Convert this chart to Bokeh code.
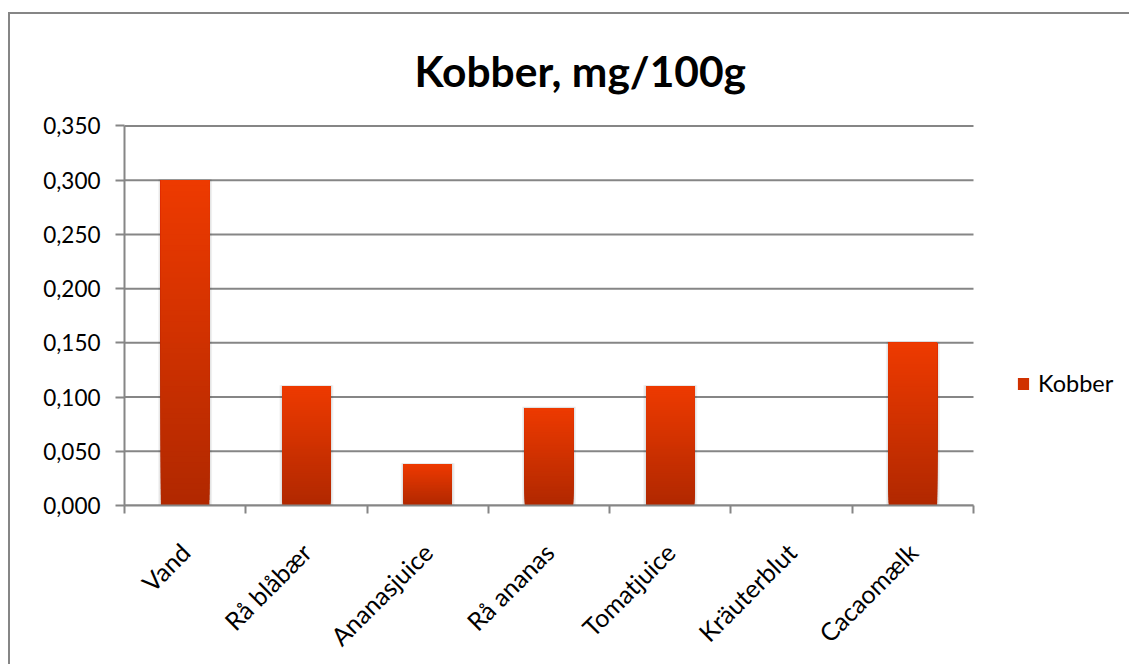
import numpy as np
from bokeh.plotting import figure
from bokeh.models import (FixedTicker, CustomJSTickFormatter, Legend, LegendItem,
                          ColumnDataSource, Range1d, Title)
from bokeh.embed import file_html
from bokeh.resources import INLINE

# --- data -------------------------------------------------------------
categories = ["Vand", "Rå blåbær", "Ananasjuice", "Rå ananas",
              "Tomatjuice", "Kräuterblut", "Cacaomælk"]
kobber = [0.300, 0.110, 0.038, 0.090, 0.110, 0.0, 0.150]
y_ticks = [0.0, 0.05, 0.10, 0.15, 0.20, 0.25, 0.30, 0.35]
series_name = "Kobber"
title_text = "Kobber, mg/100g"

# --- styling ----------------------------------------------------------
FONT = "Lato"
GREY = "#868686"
TOP_RGB = np.array([238, 58, 0])
BOTTOM_RGB = np.array([176, 40, 0])
BAR_WIDTH = 0.40
N_SLICES = 60

n_cat = len(categories)
y_max = y_ticks[-1]
PX_PER_CAT = 849 / n_cat          # plot area of 849 px holds the categories
FRAME_W = 1121 - 114              # frame runs on to the right edge (room for legend)
x_end = FRAME_W / PX_PER_CAT

p = figure(width=1121, height=652, output_backend="svg", toolbar_location=None,
           x_range=Range1d(0, x_end), y_range=Range1d(0, y_max * (1 + 1.5 / 380)),
           min_border_left=114, min_border_right=0,
           min_border_top=110, min_border_bottom=161)
p.styles = {"margin-left": "8px", "margin-top": "12px",
            "border-left": f"2px solid {GREY}", "border-top": f"2px solid {GREY}"}
p.outline_line_color = None
p.background_fill_color = "white"
p.border_fill_color = "white"

# title
p.title = Title(text=title_text, text_font=FONT, text_font_style="bold",
                text_font_size="42.5px", text_color="black", align="left",
                offset=290, standoff=57)

# horizontal grid lines over the category area only
p.segment(x0=[0] * len(y_ticks), x1=[n_cat] * len(y_ticks), y0=y_ticks, y1=y_ticks,
          line_color=GREY, line_width=2, level="underlay")

# soft shadow around each bar
sh_left, sh_right, sh_top = [], [], []
for i, v in enumerate(kobber):
    if v <= 0:
        continue
    c = i + 0.5
    sh_left.append(c - BAR_WIDTH / 2 - 0.022)
    sh_right.append(c + BAR_WIDTH / 2 + 0.022)
    sh_top.append(v + 0.001)
p.quad(left=sh_left, right=sh_right, bottom=[0] * len(sh_top), top=sh_top,
       fill_color="black", fill_alpha=0.06, line_color=None)
p.quad(left=[l + 0.01 for l in sh_left], right=[r - 0.01 for r in sh_right],
       bottom=[0] * len(sh_top), top=sh_top,
       fill_color="black", fill_alpha=0.06, line_color=None)

# gradient bars: layered fills, each one starting a little higher and a
# little brighter, so the bar fades from dark at the base to bright at the top
left, right, bottom, top, colors = [], [], [], [], []
n_bars = sum(1 for v in kobber if v > 0)
for k in range(N_SLICES):
    f = (k + 0.5) / N_SLICES
    rgb = BOTTOM_RGB + (TOP_RGB - BOTTOM_RGB) * f
    col = "#%02x%02x%02x" % tuple(int(round(x)) for x in rgb)
    for i, v in enumerate(kobber):
        if v <= 0:
            continue
        c = i + 0.5
        colors.append(col)
        left.append(c - BAR_WIDTH / 2)
        right.append(c + BAR_WIDTH / 2)
        bottom.append(v * k / N_SLICES)
        top.append(v)
src = ColumnDataSource(dict(left=left, right=right, bottom=bottom, top=top, color=colors))
bars = p.quad(left="left", right="right", bottom="bottom", top="top", source=src,
              fill_color="color", line_color=None)

# legend swatch takes a mid-gradient colour from the bar layers
legend = Legend(items=[LegendItem(label=series_name, renderers=[bars],
                                  index=(N_SLICES // 2) * n_bars)],
                location=(892, 108), padding=0, margin=0, spacing=0,
                glyph_width=14, glyph_height=15, label_standoff=8,
                label_text_font=FONT, label_text_font_size="23.5px",
                label_text_color="black", border_line_color=None,
                background_fill_alpha=0)
p.add_layout(legend)

# y axis
p.yaxis.ticker = FixedTicker(ticks=y_ticks)
p.yaxis.bounds = (0, y_max)
p.yaxis.formatter = CustomJSTickFormatter(code="return tick.toFixed(3).replace('.', ',');")
p.yaxis.axis_line_color = GREY
p.yaxis.axis_line_width = 2
p.yaxis.major_tick_line_color = GREY
p.yaxis.major_tick_line_width = 2
p.yaxis.major_tick_in = 0
p.yaxis.major_tick_out = 9
p.yaxis.minor_tick_line_color = None
p.yaxis.major_label_standoff = 15
p.yaxis.major_label_text_font = FONT
p.yaxis.major_label_text_font_size = "22.5px"
p.yaxis.major_label_text_color = "black"

# x axis: labels at category centres, ticks at category boundaries
p.xaxis.ticker = FixedTicker(ticks=[i + 0.5 for i in range(n_cat)],
                             minor_ticks=list(range(n_cat + 1)))
p.xaxis.bounds = (0, n_cat)
p.xaxis.formatter = CustomJSTickFormatter(args=dict(labels=categories),
                                          code="return labels[Math.round(tick - 0.5)] || '';")
p.xaxis.major_label_orientation = np.pi / 4
p.xaxis.axis_line_color = GREY
p.xaxis.axis_line_width = 2
p.xaxis.major_tick_line_color = None
p.xaxis.minor_tick_line_color = GREY
p.xaxis.minor_tick_line_width = 2
p.xaxis.minor_tick_in = 0
p.xaxis.minor_tick_out = 8
p.xaxis.major_label_standoff = 34
p.xaxis.major_label_text_font = FONT
p.xaxis.major_label_text_font_size = "25px"
p.xaxis.major_label_text_color = "black"

# built-in grids are replaced by the segments above
p.xgrid.grid_line_color = None
p.ygrid.grid_line_color = None

open("out.html", "w").write(file_html(p, INLINE))
